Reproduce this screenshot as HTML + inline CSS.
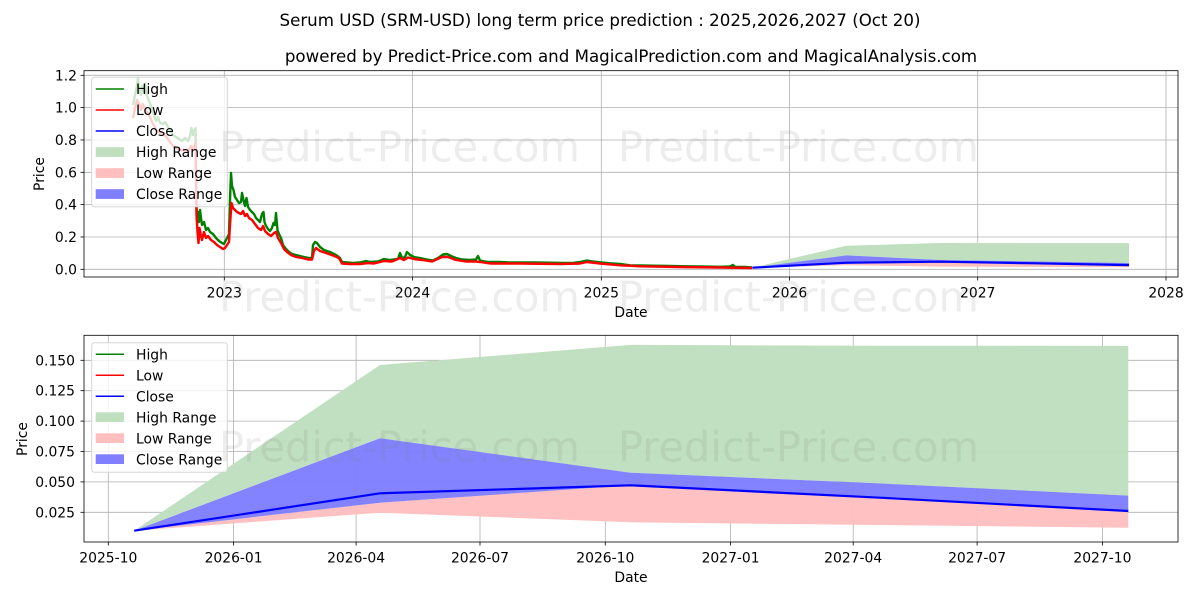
<!DOCTYPE html>
<html><head><meta charset="utf-8"><style>
html,body{margin:0;padding:0;background:#fff;}
svg{display:block;font-family:"DejaVu Sans","Liberation Sans",sans-serif;}
</style></head><body>
<svg width="1200" height="600" viewBox="0 0 1200 600" xmlns="http://www.w3.org/2000/svg">
<defs>
<clipPath id="c1"><rect x="84" y="70.7" width="1094" height="206.3"/></clipPath>
<clipPath id="c2"><rect x="84" y="335.3" width="1094" height="206.7"/></clipPath>
</defs>
<rect width="1200" height="600" fill="#fff"/>
<text x="600" y="26" font-size="16.67" text-anchor="middle" fill="#000">Serum USD (SRM-USD) long term price prediction : 2025,2026,2027 (Oct 20)</text>
<text x="631" y="62" font-size="16.67" text-anchor="middle" fill="#000">powered by Predict-Price.com and MagicalPrediction.com and MagicalAnalysis.com</text>

<!-- TOP AXES -->
<g stroke="#b0b0b0" stroke-width="0.8">
<line x1="84" x2="1178" y1="269.3" y2="269.3"/><line x1="84" x2="1178" y1="236.97" y2="236.97"/>
<line x1="84" x2="1178" y1="204.63" y2="204.63"/><line x1="84" x2="1178" y1="172.3" y2="172.3"/>
<line x1="84" x2="1178" y1="139.97" y2="139.97"/><line x1="84" x2="1178" y1="107.63" y2="107.63"/>
<line x1="84" x2="1178" y1="75.3" y2="75.3"/>
<line x1="224.3" x2="224.3" y1="70.7" y2="277"/><line x1="412.5" x2="412.5" y1="70.7" y2="277"/>
<line x1="601.3" x2="601.3" y1="70.7" y2="277"/><line x1="789.5" x2="789.5" y1="70.7" y2="277"/>
<line x1="977.7" x2="977.7" y1="70.7" y2="277"/><line x1="1166" x2="1166" y1="70.7" y2="277"/>
</g>
<g clip-path="url(#c1)">
<polygon fill="#bfdfbf" points="752.3,267.7 846.5,245.7 940.6,243.0 1034.8,243.1 1129,243.1 1129,263.0 1034.8,261.4 940.6,260.0 846.5,255.4 752.3,267.7"/>
<polygon fill="#ffbfbf" points="752.3,267.7 846.5,264.0 940.6,261.7 1034.8,263.3 1129,265.1 1129,267.3 1034.8,266.9 940.6,266.6 846.5,265.3"/>
<polygon fill="#7f7fff" points="752.3,267.7 846.5,255.4 940.6,260.0 1034.8,261.4 1129,263.0 1129,265.1 1034.8,263.3 940.6,261.7 846.5,264.0"/>
<polyline fill="none" stroke="#008000" stroke-width="2.4" stroke-linejoin="round" points="133,105 135,95 137,85 138,78 139,90 141,95 142,86 144,92 145,84 147,96 150,103 152,110 154,115 156,121 158,117 160,123 163,124 165,122 168,127 170,131 173,135 176,137 179,139 182,141 185,138 188,141 190,136 191.5,128 193,135 194.5,130 195.5,128 196.5,205 197,215 198,212 199,222 200,210 201,218 202,225 204,222 206,230 208,228 210,232 213,234 216,238 219,241 222,243 224,244 226,240 227.5,237 229,234 230,200 231,173 232,186 233.5,190 235,197 237,200 239,203 241,202 242,193 243.5,200 245,206 246.5,198 248,207 250,210 252,212 254,214 256,218 258,220 260,222 261,218 262,214 263.5,212 264.5,222 266,226 268,229 270,231 272,228 273.5,223 275,225 276,213 277.5,230 279,234 281,238 283,245 286,249 289,252 292,254 296,255 300,256 304,257 309,258 312,258 313,245 315,242 317,243 320,247 324,250 330,252 336,255 340,258 342,262 347,262.5 353,263 360,262.5 366,261 370,262 378,261.5 384,259 390,260 398,259 400,253 402,258 405,257 407,252 410,255 414,257 420,258 427,259.5 433,260.5 438,258 443,254.5 447,254 451,256 456,258 462,259.5 470,260 476,259.5 478,256 480,260.5 488,262 500,262 510,262.5 520,262.5 535,262.5 550,262.7 563,263 573,263 580,262 587,260.5 593,261.5 600,262.3 610,263.3 620,264 630,265.3 640,265.5 653,265.7 670,266 687,266.3 700,266.5 720,266.8 730,266.5 733,265 735,266.8 745,267 752,267.5"/>
<polyline fill="none" stroke="#ff0000" stroke-width="2.4" stroke-linejoin="round" points="133,118 135,108 137,100 139,104 141,110 143,104 145,110 147,112 150,117 153,124 156,130 160,133 164,134 168,139 172,145 176,148 180,150 184,150 188,152 191,146 193,150 195.5,143 196.5,215 197.5,232 198.5,243 199.5,228 201,236 202,240 204,232 206,238 208,236 211,240 214,242 217,245 220,247 223,249 225,248 227,245 229,242 230,225 231.5,203 233,208 235,210 237,212 239,213 241,214 243,211 245,216 247,214 249,218 252,220 255,224 258,228 261,230 263,226 265,231 268,234 271,236 274,233 276,232 278,238 281,243 284,249 287,252 291,255 296,257 302,258 308,259.5 312,259.5 314,251 316,248 320,251 326,253 333,255.5 339,258 342,263.5 350,264 360,264 368,263 374,263.5 384,261 392,261.5 400,258 404,260 408,257.5 414,259 422,260 432,261.5 442,257 448,257 456,260 466,261.5 476,261.5 480,262 490,263.5 520,263.5 560,264 580,263.5 587,262 600,263.5 620,265.3 640,266.3 680,267 720,267.5 752,268"/>
<polyline fill="none" stroke="#0000ff" stroke-width="2.2" stroke-linejoin="round" points="752.3,267.7 846.5,262.7 940.6,261.7 1034.8,263.3 1129,265.1"/>
</g>
<rect x="84" y="70.7" width="1094" height="206.3" fill="none" stroke="#000" stroke-width="0.8"/>
<g stroke="#000" stroke-width="0.8">
<line x1="80.5" x2="84" y1="269.3" y2="269.3"/><line x1="80.5" x2="84" y1="236.97" y2="236.97"/>
<line x1="80.5" x2="84" y1="204.63" y2="204.63"/><line x1="80.5" x2="84" y1="172.3" y2="172.3"/>
<line x1="80.5" x2="84" y1="139.97" y2="139.97"/><line x1="80.5" x2="84" y1="107.63" y2="107.63"/>
<line x1="80.5" x2="84" y1="75.3" y2="75.3"/>
<line x1="224.3" x2="224.3" y1="277" y2="280.5"/><line x1="412.5" x2="412.5" y1="277" y2="280.5"/>
<line x1="601.3" x2="601.3" y1="277" y2="280.5"/><line x1="789.5" x2="789.5" y1="277" y2="280.5"/>
<line x1="977.7" x2="977.7" y1="277" y2="280.5"/><line x1="1166" x2="1166" y1="277" y2="280.5"/>
</g>
<g font-size="13.9" fill="#000" text-anchor="end">
<text x="77" y="274.3">0.0</text><text x="77" y="242">0.2</text><text x="77" y="209.6">0.4</text>
<text x="77" y="177.3">0.6</text><text x="77" y="145">0.8</text><text x="77" y="112.6">1.0</text><text x="77" y="80.3">1.2</text>
</g>
<g font-size="13.9" fill="#000" text-anchor="middle">
<text x="224.3" y="297.5">2023</text><text x="412.5" y="297.5">2024</text><text x="601.3" y="297.5">2025</text>
<text x="789.5" y="297.5">2026</text><text x="977.7" y="297.5">2027</text><text x="1166" y="297.5">2028</text>
<text x="631" y="317">Date</text>
<text transform="translate(44,174) rotate(-90)">Price</text>
</g>
<!-- top legend -->
<rect x="91.7" y="77.3" width="135.6" height="129.4" rx="2.8" fill="#fff" fill-opacity="0.8" stroke="#d6d6d6" stroke-width="1"/>
<g stroke-width="1.5">
<line x1="95.7" x2="124" y1="89" y2="89" stroke="#008000"/>
<line x1="95.7" x2="124" y1="110" y2="110" stroke="#ff0000"/>
<line x1="95.7" x2="124" y1="131" y2="131" stroke="#0000ff"/>
</g>
<rect x="95.7" y="147.2" width="28.3" height="9.7" fill="#bfdfbf"/>
<rect x="95.7" y="168.2" width="28.3" height="9.7" fill="#ffbfbf"/>
<rect x="95.7" y="189.2" width="28.3" height="9.7" fill="#7f7fff"/>
<g font-size="13.9" fill="#000">
<text x="136" y="94">High</text><text x="136" y="115">Low</text><text x="136" y="136">Close</text>
<text x="136" y="157">High Range</text><text x="136" y="178">Low Range</text><text x="136" y="199">Close Range</text>
</g>

<!-- BOTTOM AXES -->
<g stroke="#b0b0b0" stroke-width="0.8">
<line x1="84" x2="1178" y1="512.3" y2="512.3"/><line x1="84" x2="1178" y1="481.9" y2="481.9"/>
<line x1="84" x2="1178" y1="451.5" y2="451.5"/><line x1="84" x2="1178" y1="421.1" y2="421.1"/>
<line x1="84" x2="1178" y1="390.7" y2="390.7"/><line x1="84" x2="1178" y1="360.3" y2="360.3"/>
<line x1="108.3" x2="108.3" y1="335.3" y2="542"/><line x1="233.6" x2="233.6" y1="335.3" y2="542"/>
<line x1="356.1" x2="356.1" y1="335.3" y2="542"/><line x1="480" x2="480" y1="335.3" y2="542"/>
<line x1="605.3" x2="605.3" y1="335.3" y2="542"/><line x1="730.6" x2="730.6" y1="335.3" y2="542"/>
<line x1="853.2" x2="853.2" y1="335.3" y2="542"/><line x1="977.1" x2="977.1" y1="335.3" y2="542"/>
<line x1="1102.4" x2="1102.4" y1="335.3" y2="542"/>
</g>
<g clip-path="url(#c2)">
<polygon fill="#bfdfbf" fill-opacity="0.97" points="134.2,530.7 380,365.0 630.5,344.9 879.8,345.7 1128.3,345.9 1128.3,495.6 879.8,483.4 630.5,472.7 380,438.2"/>
<polygon fill="#ffbfbf" fill-opacity="0.97" points="134.2,530.7 380,502.7 630.5,485.3 879.8,497.7 1128.3,511.0 1128.3,527.7 879.8,525.0 630.5,522.3 380,512.7"/>
<polygon fill="#7f7fff" fill-opacity="0.97" points="134.2,530.7 380,438.2 630.5,472.7 879.8,483.4 1128.3,495.6 1128.3,511.0 879.8,497.7 630.5,485.3 380,502.7"/>
<polyline fill="none" stroke="#0000ff" stroke-width="2.2" stroke-linejoin="round" points="134.2,530.7 380,493.3 630.5,485.3 879.8,497.7 1128.3,511.0"/>
</g>
<rect x="84" y="335.3" width="1094" height="206.7" fill="none" stroke="#000" stroke-width="0.8"/>
<g stroke="#000" stroke-width="0.8">
<line x1="80.5" x2="84" y1="512.3" y2="512.3"/><line x1="80.5" x2="84" y1="481.9" y2="481.9"/>
<line x1="80.5" x2="84" y1="451.5" y2="451.5"/><line x1="80.5" x2="84" y1="421.1" y2="421.1"/>
<line x1="80.5" x2="84" y1="390.7" y2="390.7"/><line x1="80.5" x2="84" y1="360.3" y2="360.3"/>
<line x1="108.3" x2="108.3" y1="542" y2="545.5"/><line x1="233.6" x2="233.6" y1="542" y2="545.5"/>
<line x1="356.1" x2="356.1" y1="542" y2="545.5"/><line x1="480" x2="480" y1="542" y2="545.5"/>
<line x1="605.3" x2="605.3" y1="542" y2="545.5"/><line x1="730.6" x2="730.6" y1="542" y2="545.5"/>
<line x1="853.2" x2="853.2" y1="542" y2="545.5"/><line x1="977.1" x2="977.1" y1="542" y2="545.5"/>
<line x1="1102.4" x2="1102.4" y1="542" y2="545.5"/>
</g>
<g font-size="13.9" fill="#000" text-anchor="end">
<text x="75" y="517.3">0.025</text><text x="75" y="486.9">0.050</text><text x="75" y="456.5">0.075</text>
<text x="75" y="426.1">0.100</text><text x="75" y="395.7">0.125</text><text x="75" y="365.3">0.150</text>
</g>
<g font-size="13.9" fill="#000" text-anchor="middle">
<text x="108.3" y="562.5">2025-10</text><text x="233.6" y="562.5">2026-01</text><text x="356.1" y="562.5">2026-04</text>
<text x="480" y="562.5">2026-07</text><text x="605.3" y="562.5">2026-10</text><text x="730.6" y="562.5">2027-01</text>
<text x="853.2" y="562.5">2027-04</text><text x="977.1" y="562.5">2027-07</text><text x="1102.4" y="562.5">2027-10</text>
<text x="631" y="582">Date</text>
<text transform="translate(27,439) rotate(-90)">Price</text>
</g>
<!-- bottom legend -->
<rect x="91.7" y="342.7" width="135.6" height="129.6" rx="2.8" fill="#fff" fill-opacity="0.8" stroke="#d6d6d6" stroke-width="1"/>
<g stroke-width="1.5">
<line x1="95.7" x2="124" y1="354.3" y2="354.3" stroke="#008000"/>
<line x1="95.7" x2="124" y1="375.3" y2="375.3" stroke="#ff0000"/>
<line x1="95.7" x2="124" y1="396.3" y2="396.3" stroke="#0000ff"/>
</g>
<rect x="95.7" y="412.3" width="28.3" height="9.7" fill="#bfdfbf"/>
<rect x="95.7" y="433.3" width="28.3" height="9.7" fill="#ffbfbf"/>
<rect x="95.7" y="454.3" width="28.3" height="9.7" fill="#7f7fff"/>
<g font-size="13.9" fill="#000">
<text x="136" y="359.3">High</text><text x="136" y="380.3">Low</text><text x="136" y="401.3">Close</text>
<text x="136" y="422.3">High Range</text><text x="136" y="443.3">Low Range</text><text x="136" y="464.3">Close Range</text>
</g>

<!-- watermarks -->
<g font-size="41.5" fill="#808080" fill-opacity="0.14">
<text x="219" y="161.7">Predict-Price.com</text><text x="618" y="161.7">Predict-Price.com</text>
<text x="219" y="311.7">Predict-Price.com</text><text x="618" y="311.7">Predict-Price.com</text>
<text x="219" y="461.7">Predict-Price.com</text><text x="618" y="461.7">Predict-Price.com</text>
</g>
</svg>
</body></html>
